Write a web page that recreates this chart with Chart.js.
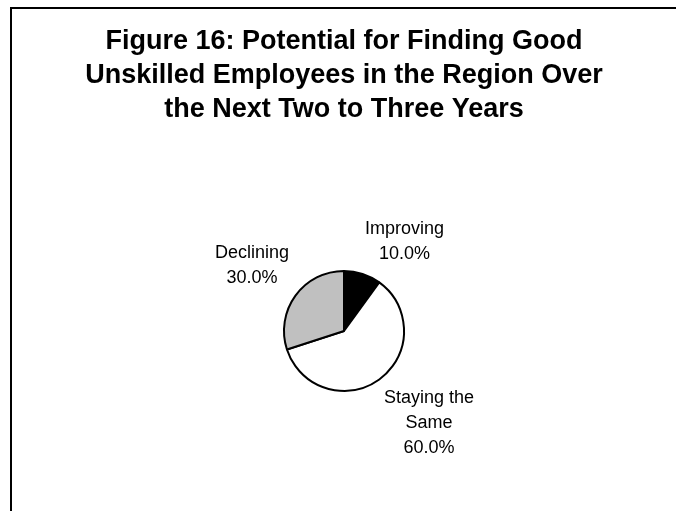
<!DOCTYPE html>
<html>
<head>
<meta charset="utf-8">
<script src="https://cdn.jsdelivr.net/npm/chart.js@4.4.0/dist/chart.umd.min.js"></script>
<style>
  html, body { margin: 0; padding: 0; background: #fff; }
  #wrap { position: relative; width: 676px; height: 511px; overflow: hidden; }
  /* marco de la figura: solo arriba y a la izquierda */
  #frame { position: absolute; left: 10px; top: 7px; right: -4px; bottom: -4px;
           border-top: 2px solid #000; border-left: 2px solid #000; }
  #chart { position: absolute; left: 0; top: 0; }
</style>
</head>
<body>
<div id="wrap">
  <div id="frame"></div>
  <canvas id="chart" width="676" height="511"></canvas>
</div>
<script>
const titleLines = [
    'Figure 16: Potential for Finding Good',
    'Unskilled Employees in the Region Over',
    'the Next Two to Three Years'
];
const categories = [['Improving'], ['Staying the', 'Same'], ['Declining']];
const values = [10, 60, 30];
const sliceColors = ['#000000', '#ffffff', '#c0c0c0'];

const FONT = '"Liberation Sans", Arial, Helvetica, sans-serif';

// Etiquetas fuera del pastel: nombre + porcentaje, pegadas a la esquina del arco
const outsideLabels = {
    id: 'outsideLabels',
    afterDatasetsDraw(chart) {
        const ctx = chart.ctx;
        const meta = chart.getDatasetMeta(0);
        const data = chart.data.datasets[0].data;
        const total = data.reduce((a, b) => a + b, 0);
        const lineH = 25;
        const gap = 8;

        ctx.save();
        ctx.font = '18px ' + FONT;
        ctx.fillStyle = '#000';
        ctx.textAlign = 'center';
        ctx.textBaseline = 'middle';

        meta.data.forEach((arc, i) => {
            const p = arc.getProps(['x', 'y', 'startAngle', 'endAngle', 'outerRadius'], true);
            const mid = (p.startAngle + p.endAngle) / 2;
            const ax = p.x + Math.cos(mid) * (p.outerRadius + gap);
            const ay = p.y + Math.sin(mid) * (p.outerRadius + gap);

            const lines = [].concat(chart.data.labels[i], (data[i] / total * 100).toFixed(1) + '%');
            const w = Math.max(...lines.map(l => ctx.measureText(l).width));
            const h = lines.length * lineH;

            const cx = Math.cos(mid) >= 0 ? ax + w / 2 : ax - w / 2;
            const top = Math.sin(mid) >= 0 ? ay : ay - h;

            lines.forEach((l, j) => ctx.fillText(l, cx, top + lineH * j + lineH / 2));
        });
        ctx.restore();
    }
};

new Chart(document.getElementById('chart'), {
    type: 'pie',
    data: {
        labels: categories,
        datasets: [{
            data: values,
            backgroundColor: sliceColors,
            borderColor: '#000',
            borderWidth: 2,
            radius: 60
        }]
    },
    options: {
        responsive: false,
        animation: false,
        layout: { padding: { left: 12 } },
        plugins: {
            legend: { display: false },
            tooltip: { enabled: false },
            title: {
                display: true,
                text: titleLines,
                color: '#000',
                font: { family: FONT, size: 27, weight: 'bold', lineHeight: 1.27 },
                padding: { top: 24, bottom: 24 }
            }
        }
    },
    plugins: [outsideLabels]
});
</script>
</body>
</html>
